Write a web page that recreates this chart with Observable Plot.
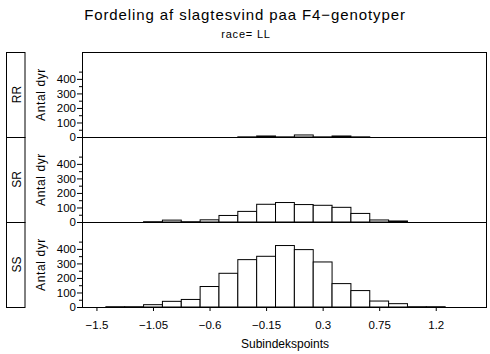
<!DOCTYPE html>
<html>
<head>
<meta charset="utf-8">
<script src="https://cdn.jsdelivr.net/npm/d3@7"></script>
<script src="https://cdn.jsdelivr.net/npm/@observablehq/plot@0.6"></script>
<style>
  body { margin: 0; background: #fff; }
  #chart { width: 490px; height: 354px; }
</style>
</head>
<body>
<div id="chart"></div>
<script>
// ---- data ----
const titleText = "Fordeling af slagtesvind paa F4\u2212genotyper";
const subtitleText = "race= LL";
const xLabel = "Subindekspoints";
const yLabel = "Antal dyr";
const genotypes = ["RR", "SR", "SS"];
const binCenters = [-1.35, -1.2, -1.05, -0.9, -0.75, -0.6, -0.45, -0.3, -0.15, 0, 0.15, 0.3, 0.45, 0.6, 0.75, 0.9, 1.05, 1.2];
const binWidth = 0.15;
const countsRR = [0, 0, 0, 0, 0, 0, 0, 1, 7, 1, 14, 1, 7, 1, 0, 0, 0, 0];
const countsSR = [0, 0, 2, 13, 2, 15, 45, 73, 122, 134, 120, 115, 101, 59, 14, 7, 0, 0];
const countsSS = [2, 2, 16, 39, 52, 141, 232, 326, 349, 423, 395, 310, 161, 113, 41, 23, 2, 2];
const xTicks = [-1.5, -1.05, -0.6, -0.15, 0.3, 0.75, 1.2];
const xTickLabels = ["\u22121.5", "\u22121.05", "\u22120.6", "\u22120.15", "0.3", "0.75", "1.2"];
const yMajorTicks = [0, 100, 200, 300, 400];
const yMinorTicks = [50, 150, 250, 350, 450];

// ---- build table ----
const countsByGenotype = {RR: countsRR, SR: countsSR, SS: countsSS};
const rows = [];
for (const g of genotypes) {
  countsByGenotype[g].forEach((n, i) => {
    if (n > 0) rows.push({g, x1: binCenters[i] - binWidth / 2, x2: binCenters[i] + binWidth / 2, n});
  });
}

const font = "'Liberation Sans', Arial, Helvetica, sans-serif";
const fmtX = d => xTickLabels[xTicks.indexOf(d)];

const chart = Plot.plot({
  width: 490,
  height: 354,
  marginTop: 52,
  marginBottom: 47,
  marginLeft: 82,
  marginRight: 4,
  style: {fontFamily: font, fontSize: "11px", color: "black", background: "white", overflow: "visible"},
  x: {domain: [-1.615, 1.6]},
  y: {domain: [0, 585]},
  fy: {domain: genotypes, padding: 0, axis: null},
  marks: [
    Plot.rectY(rows, {x1: "x1", x2: "x2", y: "n", fy: "g", fill: "white", stroke: "black", strokeWidth: 1}),
    Plot.frame({stroke: "black", strokeWidth: 1}),
    Plot.axisY(yMajorTicks, {anchor: "left", tickSize: 5, tickPadding: 1.5, label: null, fontSize: 11.5}),
    Plot.axisY(yMinorTicks, {anchor: "left", tickSize: 3, tickFormat: () => "", label: null}),
    Plot.axisX(xTicks, {anchor: "bottom", tickSize: 4, tickPadding: 9, tickFormat: fmtX, label: null, fontSize: 11.5})
  ]
});

document.getElementById("chart").appendChild(chart);

// ---- extras: facet label boxes, row labels, titles, x label ----
const svg = d3.select(chart);
const fy = chart.scale("fy");
const bw = fy.bandwidth;
for (const g of genotypes) {
  const y0 = fy.apply(g);
  const yc = y0 + bw / 2;
  svg.append("rect")
    .attr("x", 6.5).attr("y", y0 + 0.5)
    .attr("width", 18.5).attr("height", bw)
    .attr("fill", "none").attr("stroke", "black").attr("stroke-width", 1);
  svg.append("text")
    .attr("transform", `translate(${20.5},${yc}) rotate(-90)`)
    .attr("text-anchor", "middle")
    .attr("font-family", font).attr("font-size", 12)
    .attr("fill", "black")
    .text(g);
  svg.append("text")
    .attr("transform", `translate(${44.5},${yc}) rotate(-90)`)
    .attr("text-anchor", "middle")
    .attr("font-family", font).attr("font-size", 12)
    .attr("letter-spacing", 0.6)
    .attr("fill", "black")
    .text(yLabel);
}
svg.append("text")
  .attr("x", 245).attr("y", 20)
  .attr("text-anchor", "middle")
  .attr("font-family", font).attr("font-size", 15)
  .attr("letter-spacing", 0.9)
  .attr("fill", "black")
  .text(titleText);
svg.append("text")
  .attr("x", 246).attr("y", 37.5)
  .attr("text-anchor", "middle")
  .attr("font-family", font).attr("font-size", 11)
  .attr("letter-spacing", 0.8)
  .attr("fill", "black")
  .text(subtitleText);
svg.append("text")
  .attr("x", 285).attr("y", 348)
  .attr("text-anchor", "middle")
  .attr("font-family", font).attr("font-size", 12)
  .attr("fill", "black")
  .text(xLabel);
</script>
</body>
</html>
